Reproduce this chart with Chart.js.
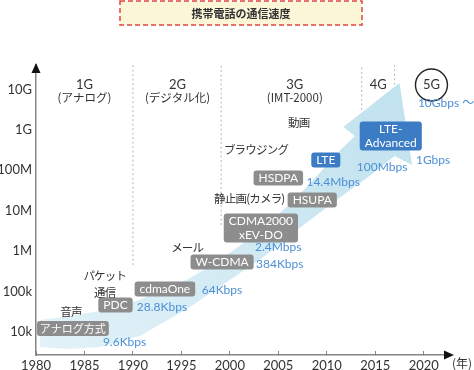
<!DOCTYPE html>
<html>
<head>
<meta charset="UTF-8">
<title>携帯電話の通信速度</title>
<style>
  html, body { margin: 0; padding: 0; background: #fff; }
</style>
</head>
<body>
<canvas id="speed" width="474" height="370"></canvas>

<script src="https://cdn.jsdelivr.net/npm/chart.js@4.4.1/dist/chart.umd.min.js"></script>
<script>
  // axes
  var yearTicks = [1980, 1985, 1990, 1995, 2000, 2005, 2010, 2015, 2020];
  var speedTicks = [1e4, 1e5, 1e6, 1e7, 1e8, 1e9, 1e10];
  var speedTickLabels = ['10k', '100k', '1M', '10M', '100M', '1G', '10G'];

  // generations
  var genNames = ['1G', '2G', '3G', '4G', '5G'];
  var genNotes = ['(アナログ)', '(デジタル化)', '(IMT-2000)', '', ''];
  var genYears = [1985.0, 1994.6, 2006.7, 2015.3, 2020.8];
  var genLevel = 1.28e10, noteLevel = 6.1e9;

  // dotted dividers: year, where the line stops at the bottom
  var dividerYears = [1990.0, 1999.1, 2013.6, 2017.0];
  var dividerEnds = [4.5e5, 4.4e6, 3.1e9, 1.3e10];

  // systems (box centre)
  var techNames = ['アナログ方式', 'PDC', 'cdmaOne', 'W-CDMA', 'CDMA2000\nxEV-DO', 'HSDPA', 'HSUPA', 'LTE', 'LTE-\nAdvanced'];
  var techYears = [1983.8, 1988.2, 1993.3, 1999.2, 2003.2, 2005.0, 2008.5, 2009.9, 2016.6];
  var techLevels = [1.22e4, 4.66e4, 1.16e5, 5.38e5, 3.73e6, 6.43e7, 1.84e7, 1.79e8, 7.03e8];
  var techIsLTE = [false, false, false, false, false, false, false, true, true];

  // max speeds (left edge of text)
  var rateNames = ['9.6Kbps', '28.8Kbps', '64Kbps', '384Kbps', '2.4Mbps', '14.4Mbps', '100Mbps', '1Gbps', '10Gbps ～'];
  var rateYears = [1986.9, 1990.4, 1997.1, 2002.7, 2002.6, 2007.9, 2013.1, 2019.2, 2019.4];
  var rateLevels = [5.7e3, 4.15e4, 1.09e5, 4.81e5, 1.26e6, 5.12e7, 1.2e8, 1.79e8, 4.5e9];

  // what it was used for
  var useNames = ['音声', 'パケット\n通信', 'メール', '静止画(カメラ)', 'ブラウジング', '動画'];
  var useYears = [1983.6, 1987.1, 1995.6, 2002.0, 2002.7, 2007.1];
  var useLevels = [3.12e4, 1.54e5, 1.19e6, 1.95e7, 3.17e8, 1.47e9];

  // the big arrow band
  var bandUpper = [
    [1980.4, 1.98e4], [1983.5, 2.49e4], [1986.6, 3.30e4], [1989.7, 5.21e4],
    [1992.8, 9.75e4], [1995.9, 2.16e5], [1998.5, 5.08e5], [2001.0, 1.34e6],
    [2003.6, 4.18e6], [2006.2, 1.46e7], [2008.8, 6.43e7], [2011.4, 3.17e8],
    [2012.9, 7.03e8]
  ];
  var bandHead = [[2011.7, 1.17e9], [2017.5, 1.44e10], [2018.8, 1.35e8]];
  var bandLower = [
    [2017.0, 2.25e8], [2014.4, 7.21e7], [2011.0, 1.84e7], [2007.2, 3.73e6],
    [2003.6, 7.57e5], [2000.0, 1.93e5], [1995.4, 3.50e4], [1990.7, 7.96e3],
    [1986.6, 4.26e3], [1983.5, 3.80e3], [1980.4, 4.26e3]
  ];

  var LATIN = '"Lato", "Noto Sans CJK JP", sans-serif';
  var JP = '"Noto Sans CJK JP", sans-serif';
  var AXIS = '#858585';

  var toXY = function(p) { return { x: p[0], y: p[1] }; };
  var bandPoints = bandUpper.concat(bandHead, bandLower).map(toXY);

  var datasets = [];
  for (var i = 0; i < dividerYears.length; i++) {
    datasets.push({
      data: [{ x: dividerYears[i], y: dividerEnds[i] }, { x: dividerYears[i], y: 4e10 }],
      showLine: true, borderColor: '#a6bacb', borderWidth: 1, borderDash: [2, 2.5],
      pointRadius: 0, fill: false
    });
  }
  datasets.push({
    data: bandPoints,
    showLine: true,
    borderColor: 'rgba(0,0,0,0)',
    borderWidth: 0,
    pointRadius: 0,
    tension: 0,
    fill: 'shape',
    backgroundColor: function(context) {
      var chart = context.chart, area = chart.chartArea;
      if (!area) return '#cfe8f2';
      var g = chart.ctx.createLinearGradient(area.left, area.bottom, area.right, area.top);
      g.addColorStop(0, '#e3f2f8');
      g.addColorStop(1, '#bde0ee');
      return g;
    }
  });

  var textLines = function(ctx, lines, x, y, lh) {
    var top = y - (lines.length - 1) * lh / 2;
    for (var k = 0; k < lines.length; k++) {
      ctx.fillText(lines[k], x, top + k * lh);
    }
  };

  var decor = {
    id: 'decor',
    beforeDraw: function(chart) {
      var ctx = chart.ctx;
      ctx.save();
      ctx.fillStyle = '#fbf6d8';
      ctx.fillRect(120, 1, 242, 24);
      ctx.strokeStyle = '#e3463f';
      ctx.lineWidth = 1.5;
      ctx.setLineDash([5, 3]);
      ctx.strokeRect(120, 1, 242, 24);
      ctx.setLineDash([]);
      ctx.fillStyle = '#333';
      ctx.font = 'bold 11px ' + JP;
      ctx.textAlign = 'center';
      ctx.textBaseline = 'middle';
      ctx.fillText('携帯電話の通信速度', 241, 14);
      ctx.restore();
    },
    afterDraw: function(chart) {
      var ctx = chart.ctx, xs = chart.scales.x, ys = chart.scales.y, a = chart.chartArea;
      var X = function(v) { return xs.getPixelForValue(v); };
      var Y = function(v) { return ys.getPixelForValue(v); };
      ctx.save();

      // axis arrow heads
      ctx.fillStyle = '#111';
      ctx.beginPath();
      ctx.moveTo(a.left, a.top - 2);
      ctx.lineTo(a.left - 4.5, a.top + 8);
      ctx.lineTo(a.left + 4.5, a.top + 8);
      ctx.closePath();
      ctx.fill();
      ctx.beginPath();
      ctx.moveTo(a.right + 8, a.bottom);
      ctx.lineTo(a.right - 2, a.bottom - 4.5);
      ctx.lineTo(a.right - 2, a.bottom + 4.5);
      ctx.closePath();
      ctx.fill();

      ctx.textAlign = 'left';
      ctx.textBaseline = 'middle';
      ctx.fillStyle = '#333';
      ctx.font = '12px ' + JP;
      ctx.fillText('(年)', a.right + 6, a.bottom + 8);

      // generations
      ctx.textAlign = 'center';
      for (var i = 0; i < genNames.length; i++) {
        ctx.fillStyle = '#333';
        ctx.font = '13px ' + LATIN;
        ctx.fillText(genNames[i], X(genYears[i]), Y(genLevel));
        if (genNotes[i]) {
          ctx.font = '11.5px ' + JP;
          ctx.fillText(genNotes[i], X(genYears[i]), Y(noteLevel));
        }
      }
      var last = genNames.length - 1;
      ctx.strokeStyle = '#222';
      ctx.lineWidth = 1.4;
      ctx.beginPath();
      ctx.arc(X(genYears[last]), Y(genLevel), 16, 0, Math.PI * 2);
      ctx.stroke();

      // uses
      ctx.fillStyle = '#333';
      ctx.font = '11.5px ' + JP;
      ctx.letterSpacing = '-0.8px';
      for (i = 0; i < useNames.length; i++) {
        textLines(ctx, useNames[i].split('\n'), X(useYears[i]), Y(useLevels[i]), 17);
      }
      ctx.letterSpacing = '0px';

      // system boxes
      for (i = 0; i < techNames.length; i++) {
        var lines = techNames[i].split('\n');
        var jp = /[^\x00-\x7f]/.test(techNames[i]);
        ctx.font = (jp ? '11px ' : '12px ') + LATIN;
        var w = 0;
        for (var k = 0; k < lines.length; k++) w = Math.max(w, ctx.measureText(lines[k]).width);
        w += jp ? 6 : 10;
        var h = lines.length * 14 + 1;
        var cx = X(techYears[i]), cy = Y(techLevels[i]);
        ctx.fillStyle = techIsLTE[i] ? '#3b7cc5' : '#8d8d8d';
        ctx.beginPath();
        ctx.roundRect(cx - w / 2, cy - h / 2, w, h, 3);
        ctx.fill();
        ctx.fillStyle = '#fff';
        textLines(ctx, lines, cx, cy + 0.5, 14);
      }

      // speeds
      ctx.textAlign = 'left';
      ctx.fillStyle = '#4d8fd6';
      ctx.font = '12px ' + LATIN;
      for (i = 0; i < rateNames.length; i++) {
        ctx.fillText(rateNames[i], X(rateYears[i]), Y(rateLevels[i]));
      }
      ctx.restore();
    }
  };

  var chart = new Chart(document.getElementById('speed'), {
    type: 'scatter',
    data: { datasets: datasets },
    plugins: [decor],
    options: {
      responsive: false,
      animation: false,
      layout: { padding: { top: 65, right: 28, left: 0, bottom: 0 } },
      plugins: { legend: { display: false }, tooltip: { enabled: false } },
      scales: {
        x: {
          type: 'linear', min: 1980, max: 2022.3,
          afterBuildTicks: function(s) { s.ticks = yearTicks.map(function(v) { return { value: v }; }); },
          afterFit: function(s) { s.height = 15; },
          grid: { display: true, drawOnChartArea: false, drawTicks: true, tickLength: -4, color: AXIS, lineWidth: 1 },
          border: { display: true, color: AXIS, width: 1.5 },
          ticks: {
            padding: 7, color: '#333', font: { family: LATIN, size: 13 }, maxRotation: 0, autoSkip: false,
            callback: function(v) { return String(v); }
          }
        },
        y: {
          type: 'logarithmic', min: 2700, max: 4e10,
          afterBuildTicks: function(s) { s.ticks = speedTicks.map(function(v) { return { value: v }; }); },
          afterFit: function(s) { s.width = 36; },
          grid: { display: false, drawTicks: false },
          border: { display: true, color: AXIS, width: 1.5 },
          ticks: {
            padding: 4, color: '#333', font: { family: LATIN, size: 13 },
            callback: function(v) {
              var i = speedTicks.indexOf(v);
              return i < 0 ? '' : speedTickLabels[i];
            }
          }
        }
      }
    }
  });
</script>
</body>
</html>
